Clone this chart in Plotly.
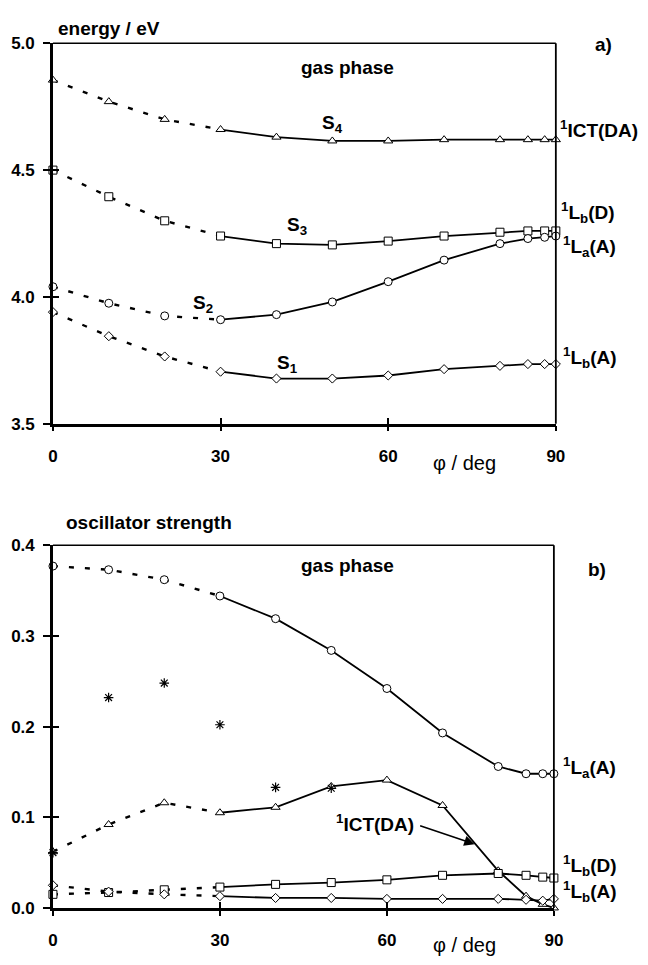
import plotly.graph_objects as go

W, H = 648, 965

phi = [0, 10, 20, 30, 40, 50, 60, 70, 80, 85, 88, 90]

# energies (eV)
E_S1 = [3.94, 3.845, 3.765, 3.705, 3.678, 3.678, 3.69, 3.715, 3.728, 3.735, 3.735, 3.735]
E_S2 = [4.04, 3.975, 3.925, 3.91, 3.93, 3.98, 4.06, 4.145, 4.21, 4.23, 4.235, 4.24]
E_S3 = [4.50, 4.395, 4.30, 4.24, 4.21, 4.205, 4.22, 4.24, 4.255, 4.26, 4.26, 4.26]
E_S4 = [4.855, 4.77, 4.70, 4.66, 4.63, 4.615, 4.615, 4.62, 4.62, 4.62, 4.62, 4.62]

# oscillator strengths
f_La = [0.377, 0.373, 0.362, 0.344, 0.319, 0.284, 0.242, 0.193, 0.156, 0.148, 0.148, 0.148]
f_ICT = [0.062, 0.092, 0.116, 0.105, 0.111, 0.134, 0.141, 0.113, 0.041, 0.013, 0.004, 0.0]
f_LbD = [0.015, 0.017, 0.020, 0.023, 0.026, 0.028, 0.031, 0.036, 0.038, 0.036, 0.034, 0.033]
f_LbA = [0.025, 0.018, 0.015, 0.013, 0.011, 0.011, 0.010, 0.010, 0.010, 0.009, 0.008, 0.010]

phi_star = [0, 10, 20, 30, 40, 50]
f_star = [0.061, 0.232, 0.248, 0.202, 0.133, 0.132]

x_ticks = [0, 30, 60, 90]
E_ticks = [3.5, 4.0, 4.5, 5.0]
f_ticks = [0.0, 0.1, 0.2, 0.3, 0.4]

FONT = "Liberation Sans, Arial, sans-serif"
SPLIT = 3  # index of phi = 30

def px(x):
    return x / W

def py(y):
    return 1 - y / H

fig = go.Figure()

def add_series(xs, ys, symbol, size, xa, ya):
    fig.add_trace(go.Scatter(x=xs[:SPLIT + 1], y=ys[:SPLIT + 1], mode="lines",
                             line=dict(color="black", width=2.4, dash="5px,11px"),
                             xaxis=xa, yaxis=ya, showlegend=False, hoverinfo="skip"))
    fig.add_trace(go.Scatter(x=xs[SPLIT:], y=ys[SPLIT:], mode="lines",
                             line=dict(color="black", width=1.8),
                             xaxis=xa, yaxis=ya, showlegend=False, hoverinfo="skip"))
    fig.add_trace(go.Scatter(x=xs, y=ys, mode="markers",
                             marker=dict(symbol=symbol, size=size, color="white",
                                         line=dict(color="black", width=1)),
                             xaxis=xa, yaxis=ya, showlegend=False, cliponaxis=False))

# top panel
add_series(phi, E_S4, "triangle-up", 8, "x", "y")
add_series(phi, E_S3, "square", 8, "x", "y")
add_series(phi, E_S2, "circle", 8, "x", "y")
add_series(phi, E_S1, "diamond", 7, "x", "y")

# bottom panel
add_series(phi, f_La, "circle", 8, "x2", "y2")
add_series(phi, f_ICT, "triangle-up", 8, "x2", "y2")
add_series(phi, f_LbD, "square", 8, "x2", "y2")
add_series(phi, f_LbA, "diamond", 7, "x2", "y2")
fig.add_trace(go.Scatter(x=phi_star, y=f_star, mode="markers",
                         marker=dict(symbol="asterisk-open", size=8, color="black",
                                     line=dict(color="black", width=1.2)),
                         xaxis="x2", yaxis="y2", showlegend=False, cliponaxis=False))

tickfont = dict(family=FONT, size=17, color="black", weight="bold")
axis_common = dict(showgrid=False, zeroline=False, showline=True, linecolor="black",
                   linewidth=2.5, mirror=False, tickwidth=2, tickcolor="black",
                   tickfont=tickfont)
overlay_common = dict(ticks="inside", ticklen=6, tickwidth=2, tickcolor="black",
                      showticklabels=False, showgrid=False, zeroline=False,
                      showline=False)

top_dom = [py(423), py(35)]
bot_dom = [py(917), py(547)]

fig.update_layout(
    width=W, height=H, margin=dict(l=0, r=0, t=0, b=0),
    paper_bgcolor="white", plot_bgcolor="white",
    xaxis=dict(domain=[px(49), px(563)], range=[0, 90], anchor="y",
               ticks="outside", ticklen=5, ticklabelstandoff=10,
               tickvals=x_ticks, ticktext=[str(v) for v in x_ticks], **axis_common),
    yaxis=dict(domain=top_dom, range=[3.5, 5.0], anchor="x",
               ticks="outside", ticklen=7, ticklabelstandoff=5,
               tickvals=E_ticks, ticktext=[f"{v:.1f}" for v in E_ticks], **axis_common),
    xaxis2=dict(domain=[px(49), px(561)], range=[0, 90], anchor="y2",
                ticks="outside", ticklen=5, ticklabelstandoff=10,
                tickvals=x_ticks, ticktext=[str(v) for v in x_ticks], **axis_common),
    yaxis2=dict(domain=bot_dom, range=[0, 0.4], anchor="x2",
                ticks="outside", ticklen=7, ticklabelstandoff=5,
                tickvals=f_ticks, ticktext=[f"{v:.1f}" for v in f_ticks], **axis_common),
    # inward tick overlays so ticks cross the axes
    xaxis3=dict(domain=[px(49), px(563)], range=[0, 90], anchor="y", overlaying="x",
                tickvals=x_ticks[1:3], **overlay_common),
    xaxis4=dict(domain=[px(49), px(561)], range=[0, 90], anchor="y2", overlaying="x2",
                tickvals=x_ticks[1:3], **overlay_common),
    yaxis3=dict(domain=top_dom, range=[3.5, 5.0], anchor="x", overlaying="y",
                tickvals=E_ticks[1:3], **overlay_common),
    yaxis4=dict(domain=bot_dom, range=[0, 0.4], anchor="x2", overlaying="y2",
                tickvals=f_ticks[1:4], **overlay_common),
)

# dummy traces so overlay axes render
fig.add_trace(go.Scatter(x=[None], y=[None], xaxis="x3", yaxis="y3", showlegend=False))
fig.add_trace(go.Scatter(x=[None], y=[None], xaxis="x4", yaxis="y4", showlegend=False))

# thinner top / right frame lines
for xr, yr in (("x", "y"), ("x2", "y2")):
    fig.add_shape(type="line", xref=f"{xr} domain", yref=f"{yr} domain",
                  x0=0, x1=1, y0=1, y1=1, line=dict(color="black", width=1.6))
    fig.add_shape(type="line", xref=f"{xr} domain", yref=f"{yr} domain",
                  x0=1, x1=1, y0=0, y1=1, line=dict(color="black", width=1.8))

def txt(text, x, y, size=19, xanchor="center", yanchor="middle", bold=True):
    fig.add_annotation(text=text, x=px(x), y=py(y), xref="paper", yref="paper",
                       showarrow=False, xanchor=xanchor, yanchor=yanchor,
                       font=dict(family=FONT, size=size, color="black",
                                 weight="bold" if bold else "normal"))

# top panel text
txt("energy / eV", 52, 20, xanchor="left")
txt("gas phase", 350, 60)
txt("a)", 612, 36)
txt("S<sub>4</sub>", 335, 117)
txt("S<sub>3</sub>", 298, 221)
txt("S<sub>2</sub>", 202, 301)
txt("S<sub>1</sub>", 289, 362)
txt("<sup>1</sup>ICT(DA)", 565, 122, xanchor="left")
txt("<sup>1</sup>L<sub>b</sub>(D)", 566, 208, xanchor="left")
txt("<sup>1</sup>L<sub>a</sub>(A)", 568, 242, xanchor="left")
txt("<sup>1</sup>L<sub>b</sub>(A)", 568, 355, xanchor="left")
txt("φ / deg", 470, 463, size=20, bold=False)

# bottom panel text
txt("oscillator strength", 60, 524, xanchor="left")
txt("gas phase", 350, 568)
txt("b)", 605, 572)
txt("<sup>1</sup>L<sub>a</sub>(A)", 568, 774, xanchor="left")
txt("<sup>1</sup>L<sub>b</sub>(D)", 568, 874, xanchor="left")
txt("<sup>1</sup>L<sub>b</sub>(A)", 568, 900, xanchor="left")
txt("<sup>1</sup>ICT(DA)", 378, 830)
txt("φ / deg", 470, 955, size=20, bold=False)

fig.add_annotation(x=px(480), y=py(852), xref="paper", yref="paper",
                   ax=-56, ay=-19, showarrow=True, arrowhead=2, arrowsize=1.3,
                   arrowwidth=1.6, arrowcolor="black", text="")

fig.write_html("out.html")
